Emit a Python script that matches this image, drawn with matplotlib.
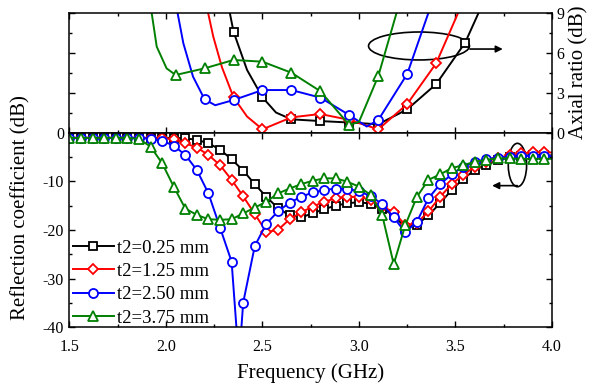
import matplotlib
matplotlib.use('Agg')
import matplotlib.pyplot as plt
from matplotlib.patches import Ellipse
from matplotlib.ticker import MultipleLocator

plt.rcParams['font.family'] = ['Liberation Serif', 'DejaVu Serif']
plt.rcParams['axes.unicode_minus'] = False

labels = ['t2=0.25 mm', 't2=1.25 mm', 't2=2.50 mm', 't2=3.75 mm']
colors = ['black', 'red', 'blue', 'green']
markers = ['s', 'D', 'o', '^']
msizes = [5.5, 5.0, 6.5, 6.5]

# Reflection coefficient (dB), one marker every 0.06 GHz
freq = [1.50, 1.56, 1.62, 1.68, 1.74, 1.80, 1.86, 1.92, 1.98, 2.04,
        2.10, 2.16, 2.22, 2.28, 2.34, 2.40, 2.46, 2.52, 2.58, 2.64,
        2.70, 2.76, 2.82, 2.88, 2.94, 3.00, 3.06, 3.12, 3.18, 3.24,
        3.30, 3.36, 3.42, 3.48, 3.54, 3.60, 3.66, 3.72, 3.78, 3.84,
        3.90, 3.96]
s11_025 = [-1.1, -1.1, -1.1, -1.1, -1.1, -1.1, -1.1, -1.1, -1.1, -1.1,
           -1.2, -1.5, -2.2, -3.5, -5.5, -7.8, -10.6, -13.2, -15.5, -17.0,
           -17.4, -16.6, -15.7, -15.0, -14.5, -14.3, -14.6, -15.6, -17.0, -19.5,
           -18.9, -17.0, -14.5, -11.8, -9.5, -7.7, -6.6, -5.7, -5.1, -4.8,
           -4.6, -4.7]
s11_125 = [-1.1, -1.1, -1.1, -1.1, -1.1, -1.1, -1.1, -1.1, -1.2, -1.3,
           -2.2, -3.1, -4.6, -6.7, -9.7, -13.1, -16.7, -20.4, -20.0, -17.8,
           -16.4, -15.2, -14.2, -13.5, -13.2, -13.2, -13.8, -15.2, -16.3, -19.0,
           -18.6, -16.2, -13.2, -10.6, -8.7, -7.0, -6.0, -5.2, -4.7, -4.3,
           -4.1, -4.1]
s11_250 = [-1.1, -1.1, -1.1, -1.1, -1.1, -1.1, -1.1, -1.3, -1.7, -2.7,
           -4.6, -7.7, -12.5, -19.5, -26.5, -34.9, -23.3, -18.7, -16.2, -14.4,
           -13.2, -12.3, -11.8, -11.5, -11.5, -12.1, -13.0, -14.7, -17.4, -20.5,
           -18.3, -13.5, -10.6, -8.6, -7.0, -6.1, -5.4, -5.2, -5.0, -4.8,
           -4.8, -4.8]
s11_375 = [-1.1, -1.1, -1.1, -1.1, -1.1, -1.1, -1.3, -2.9, -6.3, -11.1,
           -15.6, -16.9, -17.8, -17.9, -17.8, -16.6, -15.4, -14.2, -12.5, -11.5,
           -10.6, -9.9, -9.4, -9.4, -10.1, -11.1, -12.8, -16.9, -27.0, -19.0,
           -13.2, -9.7, -8.6, -7.3, -6.7, -6.0, -5.6, -5.3, -5.3, -5.4,
           -5.4, -5.4]
s11 = [s11_025, s11_125, s11_250, s11_375]

# points on the curves without a marker (sweep end, deep notch)
s11_extra_f = [[4.0], [4.0], [2.378, 4.0], [4.0]]
s11_extra_v = [[-4.7], [-4.1], [-47.0, -4.8], [-5.4]]

# Axial ratio (dB), one marker every 0.15 GHz
ar_f = [
    [2.35, 2.50, 2.65, 2.80, 2.95, 3.10, 3.25, 3.40, 3.55],
    [2.35, 2.50, 2.65, 2.80, 2.95, 3.10, 3.25, 3.40],
    [2.20, 2.35, 2.50, 2.65, 2.80, 2.95, 3.10, 3.25],
    [2.05, 2.20, 2.35, 2.50, 2.65, 2.80, 2.95, 3.10],
]
ar_v = [
    [7.57, 2.64, 0.99, 0.86, 0.75, 0.62, 1.74, 3.64, 6.75],
    [2.64, 0.24, 1.14, 1.39, 0.95, 0.24, 2.14, 5.2],
    [2.49, 2.44, 3.19, 3.19, 2.62, 1.31, 0.94, 4.4],
    [4.32, 4.82, 5.45, 5.32, 4.49, 3.10, 0.56, 4.24],
]
ar_extra_f = [
    [2.31, 2.42, 2.57, 3.62, 3.66],
    [2.20, 2.245, 2.29, 2.42, 3.514, 3.55],
    [2.04, 2.09, 2.14, 2.255, 3.04, 3.36, 3.39],
    [1.91, 1.952, 2.003, 3.00, 3.195, 3.22],
]
ar_extra_v = [
    [10.5, 4.7, 1.5, 9.0, 10.5],
    [10.2, 7.2, 4.9, 1.2, 9.0, 10.5],
    [10.5, 6.7, 4.2, 2.05, 0.45, 9.0, 10.5],
    [10.5, 6.45, 4.82, 0.8, 9.0, 10.5],
]


def draw(ax, f, v, ef, ev, color, marker, ms, label=None):
    pts = sorted([(a, b, True) for a, b in zip(f, v)] +
                 [(a, b, False) for a, b in zip(ef, ev)])
    xs = [p[0] for p in pts]
    ys = [p[1] for p in pts]
    marks = [i for i, p in enumerate(pts) if p[2]]
    ax.plot(xs, ys, color=color, lw=1.4, marker=marker, ms=ms,
            mfc='white', mec=color, mew=1.3, markevery=marks, label=label)


fig = plt.figure(figsize=(5.97, 3.86), dpi=100)
ax_top = fig.add_axes([0.1164, 0.6567, 0.8082, 0.3104])
ax_bot = fig.add_axes([0.1164, 0.1516, 0.8082, 0.5051])

for i in range(4):
    draw(ax_top, ar_f[i], ar_v[i], ar_extra_f[i], ar_extra_v[i],
         colors[i], markers[i], msizes[i])
    draw(ax_bot, freq, s11[i], s11_extra_f[i], s11_extra_v[i],
         colors[i], markers[i], msizes[i], label=labels[i])

for ax in (ax_top, ax_bot):
    ax.set_xlim(1.5, 4.0)
    ax.xaxis.set_major_locator(MultipleLocator(0.5))
    ax.xaxis.set_minor_locator(MultipleLocator(0.25))
    ax.tick_params(which='both', direction='in', top=True, bottom=True,
                   left=True, right=True, width=1.0, labelsize=11.5)
    ax.tick_params(which='major', length=4)
    ax.tick_params(which='minor', length=2.5)
    for s in ax.spines.values():
        s.set_linewidth(1.1)

ax_top.set_ylim(0, 9)
ax_top.yaxis.set_major_locator(MultipleLocator(3))
ax_top.yaxis.set_minor_locator(MultipleLocator(1.5))
ax_top.tick_params(labelbottom=False, labelleft=False, labelright=True, pad=3)
ax_top.yaxis.set_label_position('right')
ax_top.set_ylabel('Axial ratio (dB)', fontsize=15, labelpad=4)

ax_bot.set_ylim(-40, 0)
ax_bot.yaxis.set_major_locator(MultipleLocator(10))
ax_bot.yaxis.set_minor_locator(MultipleLocator(5))
ax_bot.tick_params(axis='x', pad=8)
ax_bot.tick_params(axis='y', pad=4)
ax_bot.set_xlabel('Frequency (GHz)', fontsize=15, labelpad=6)
fig.text(0.034, 0.462, 'Reflection coefficient (dB)', rotation=90,
         ha='center', va='center', fontsize=15)

ax_bot.legend(loc='lower left', bbox_to_anchor=(0.0, -0.012), frameon=False,
              fontsize=13.5, handlelength=2.2, handletextpad=0.15,
              labelspacing=0.33, borderpad=0, borderaxespad=0.17)

# circled curves with arrows pointing to their axis
ax_top.add_patch(Ellipse((3.311, 6.5), 0.523, 2.1, fill=False, lw=1.2, color='black'))
ax_top.annotate('', xy=(3.745, 6.27), xytext=(3.575, 6.27),
                arrowprops=dict(arrowstyle='-|>', color='black', lw=1.2,
                                mutation_scale=10, shrinkA=0, shrinkB=0))
ax_bot.add_patch(Ellipse((3.821, -6.67), 0.095, 8.9, fill=False, lw=1.2, color='black'))
ax_bot.annotate('', xy=(3.69, -10.9), xytext=(3.82, -10.9),
                arrowprops=dict(arrowstyle='-|>', color='black', lw=1.2,
                                mutation_scale=10, shrinkA=0, shrinkB=0))

fig.savefig('out.png', dpi=100)
